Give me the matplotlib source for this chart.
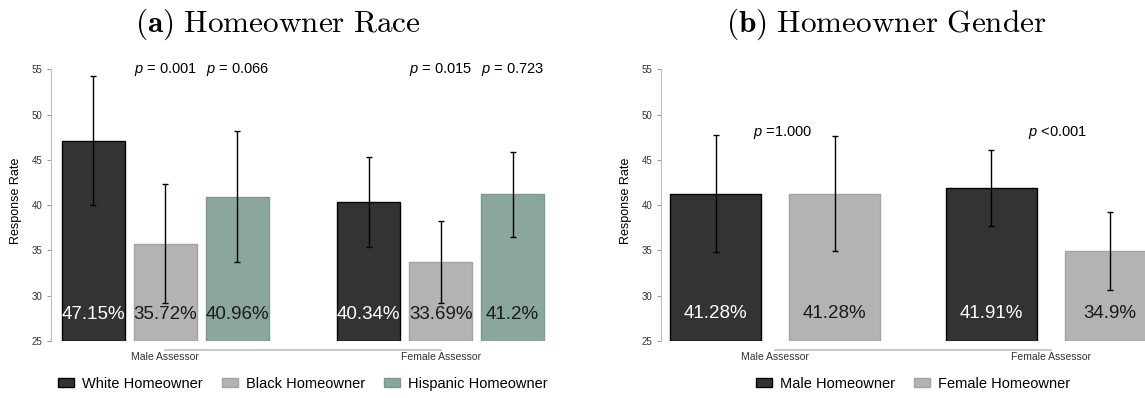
import numpy as np
import matplotlib.pyplot as plt

plt.rcParams['font.family'] = ['Liberation Sans', 'DejaVu Sans']
plt.rcParams['mathtext.fontset'] = 'custom'
plt.rcParams['mathtext.rm'] = 'Liberation Sans'
plt.rcParams['mathtext.it'] = 'Liberation Sans:italic'

assessors = ['Male Assessor', 'Female Assessor']

# (a) race
race_groups = ['White Homeowner', 'Black Homeowner', 'Hispanic Homeowner']
race_rate = [[47.15, 40.34], [35.72, 33.69], [40.96, 41.20]]
race_lo = [[40.0, 35.35], [29.15, 29.15], [33.7, 36.5]]
race_hi = [[54.3, 45.35], [42.3, 38.25], [48.25, 45.85]]
race_p = [[None, None], ['= 0.001', '= 0.015'], ['= 0.066', '= 0.723']]
race_labels = [['47.15%', '40.34%'], ['35.72%', '33.69%'], ['40.96%', '41.2%']]

# (b) gender
gender_groups = ['Male Homeowner', 'Female Homeowner']
gender_rate = [[41.28, 41.91], [41.28, 34.90]]
gender_lo = [[34.85, 37.75], [34.95, 30.65]]
gender_hi = [[47.75, 46.15], [47.7, 39.25]]
gender_p = ['=1.000', '<0.001']
gender_labels = [['41.28%', '41.91%'], ['41.28%', '34.9%']]

face = ['#333333', '#b3b3b3', '#8ba79b']
edge = ['#000000', '#a3a3a3', '#7b998d']
txt = ['white', '#1a1a1a', '#1a1a1a']

fig = plt.figure(figsize=(11.45, 3.98), dpi=100)
ax1 = fig.add_axes([51 / 1145, 57 / 398, 504 / 1145, 280.6 / 398])
ax2 = fig.add_axes([661 / 1145, 57 / 398, 504 / 1145, 280.6 / 398])


def style(ax):
    ax.set_xlim(-0.415, 1.415)
    ax.set_ylim(25, 56)
    for s in ['top', 'right']:
        ax.spines[s].set_visible(False)
    ax.spines['left'].set_bounds(25, 55)
    ax.spines['left'].set_color('#bdbdbd')
    ax.spines['bottom'].set_position(('outward', 6.5))
    ax.spines['bottom'].set_bounds(0, 1)
    ax.spines['bottom'].set_color('#c8c8c8')
    ax.spines['bottom'].set_linewidth(1.4)
    ax.set_yticks(np.arange(25, 56, 5))
    ax.tick_params(axis='y', length=3, width=0.8, color='#999999',
                   labelsize=7, labelcolor='#333333', pad=3)
    ax.set_xticks([0, 1])
    ax.set_xticklabels(assessors)
    ax.tick_params(axis='x', length=0, labelsize=7.5, labelcolor='#333333', pad=1.5)
    ax.set_ylabel('Response Rate', fontsize=9, labelpad=7)


x = np.arange(len(assessors))

# panel a
style(ax1)
offs = [-0.261, 0, 0.261]
for i, g in enumerate(race_groups):
    xs = x + offs[i]
    r = np.array(race_rate[i])
    ax1.bar(xs, r - 25, bottom=25, width=0.23, color=face[i], edgecolor=edge[i],
            linewidth=1, label=g)
    ax1.errorbar(xs, r, yerr=[r - np.array(race_lo[i]), np.array(race_hi[i]) - r],
                 fmt='none', ecolor='black', elinewidth=1.0, capsize=2, capthick=1.0)
    for j in range(len(assessors)):
        ax1.text(xs[j], 27.9, race_labels[i][j], ha='center', va='center',
                 fontsize=13.5, color=txt[i])
        if race_p[i][j]:
            ax1.text(xs[j], 55, '$p$ ' + race_p[i][j], ha='center', va='center',
                     fontsize=10.5, color='black')
ax1.legend(loc='center', bbox_to_anchor=(0.5, -0.153), ncol=3, frameon=False,
           fontsize=10.5, handlelength=1.1, handleheight=0.6, handletextpad=0.55,
           columnspacing=1.3)

# panel b
style(ax2)
offs = [-0.216, 0.216]
for i, g in enumerate(gender_groups):
    xs = x + offs[i]
    r = np.array(gender_rate[i])
    ax2.bar(xs, r - 25, bottom=25, width=0.33, color=face[i], edgecolor=edge[i],
            linewidth=1, label=g)
    ax2.errorbar(xs, r, yerr=[r - np.array(gender_lo[i]), np.array(gender_hi[i]) - r],
                 fmt='none', ecolor='black', elinewidth=1.0, capsize=2, capthick=1.0)
    for j in range(len(assessors)):
        ax2.text(xs[j], 28.0, gender_labels[i][j], ha='center', va='center',
                 fontsize=13.5, color=txt[i])
for j in range(len(assessors)):
    ax2.text(x[j] + 0.025, 48.0, '$p$ ' + gender_p[j], ha='center', va='center',
             fontsize=10.5, color='black')
ax2.legend(loc='center', bbox_to_anchor=(0.5, -0.153), ncol=2, frameon=False,
           fontsize=10.5, handlelength=1.1, handleheight=0.6, handletextpad=0.55,
           columnspacing=1.3)

fig.text(278 / 1145, 1 - 31.7 / 398, r'$\mathbf{(a)}\ \mathrm{Homeowner\ Race}$',
         ha='center', va='baseline', fontsize=22.5, math_fontfamily='cm')
fig.text(886 / 1145, 1 - 31.7 / 398, r'$\mathbf{(b)}\ \mathrm{Homeowner\ Gender}$',
         ha='center', va='baseline', fontsize=22.5, math_fontfamily='cm')

plt.savefig('out.png', dpi=100)
